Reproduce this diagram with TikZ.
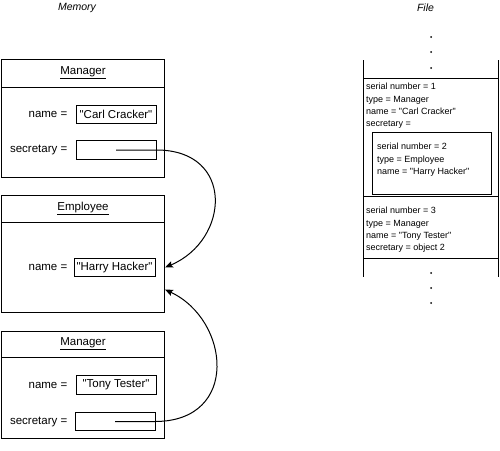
\documentclass[tikz,border=0pt]{standalone}
\usepackage{fontspec}
\setmainfont{Liberation Sans}[Ligatures=TeXOff]
\usetikzlibrary{arrows.meta,positioning}

\tikzset{
  object/.style={draw, line width=1pt, minimum width=163pt, anchor=north west, inner sep=0pt},
  field/.style={draw, line width=1pt, minimum width=80pt, minimum height=18.5pt, inner sep=1pt, font=\fontsize{11.5}{13}\selectfont},
  label/.style={inner sep=0pt, font=\fontsize{11.5}{13}\selectfont},
  record/.style={align=left, anchor=north west, inner sep=0pt, font=\fontsize{9}{12.3}\selectfont},
  title/.style={font=\fontsize{10.5}{12}\selectfont\itshape},
  dot/.style={circle, fill, inner sep=0pt, minimum size=2pt},
  ref/.style={line width=1pt, -{Stealth[length=8pt, width=6.5pt, inset=1.5pt]}}
}

\begin{document}
\begin{tikzpicture}[x=1pt, y=-1pt]
  \useasboundingbox (0,0) rectangle (500,450);

  % memory side
  \node[title] (memory) at (77,8) {Memory};

  \node[object, minimum height=118pt] (mgrA) at (1,59) {};
  \draw[line width=1pt] ([yshift=-28pt]mgrA.north west) -- ([yshift=-28pt]mgrA.north east);
  \node[label] (mgrAtitle) at ([yshift=-14pt]mgrA.north) {\underline{Manager}};
  \node[field] (mgrAname) at (116,114.5) {"Carl Cracker"};
  \node[field] (mgrAsec)  at (116,150) {};
  \node[label, left=8pt of mgrAname] {name =};
  \node[label, left=8pt of mgrAsec]  {secretary =};

  \node[object, minimum height=117pt] (emp) at (1,195) {};
  \draw[line width=1pt] ([yshift=-27pt]emp.north west) -- ([yshift=-27pt]emp.north east);
  \node[label] (emptitle) at ([yshift=-13.5pt]emp.north) {\underline{Employee}};
  \node[field, minimum width=81pt] (empname) at (114.5,267.5) {"Harry Hacker"};
  \node[label, left=6pt of empname] {name =};

  \node[object, minimum height=107pt] (mgrB) at (1,331) {};
  \draw[line width=1pt] ([yshift=-26pt]mgrB.north west) -- ([yshift=-26pt]mgrB.north east);
  \node[label] (mgrBtitle) at ([yshift=-13pt]mgrB.north) {\underline{Manager}};
  \node[field] (mgrBname) at (116,385) {"Tony Tester"};
  \node[field] (mgrBsec)  at (115,421.5) {};
  \node[label, left=8pt of mgrBname] {name =};
  \node[label, left=7pt of mgrBsec]  {secretary =};

  \coordinate (empin1) at (emp.east |- empname);
  \coordinate (empin2) at ([yshift=-22pt]emp.east |- empname);
  \draw[ref] (mgrAsec.center) -- (mgrAsec.east) .. controls (235,150) and (230,240) .. (empin1);
  \draw[ref] (mgrBsec.center) -- (mgrBsec.east) .. controls (240,421) and (230,320) .. (empin2);

  % file side
  \node[title] (file) at (425.5,8) {File};
  \foreach \y in {37,52,68,273,288,303}
    \node[dot] at (431,\y) {};

  \draw[line width=1pt] (363,60) -- (363,277) (498,60) -- (498,277);
  \draw[line width=1pt] (363,78) -- (498,78) (363,196) -- (498,196) (363,258) -- (498,258);

  \node[record] (rec1) at (366,83) {serial number = 1\\type = Manager\\name = "Carl Cracker"\\secretary =};
  \node[draw, line width=1pt, minimum width=119pt, minimum height=62pt, anchor=north west, inner sep=0pt] (rec2box) at (372,132) {};
  \node[record] (rec2) at (377,143) {serial number = 2\\type = Employee\\name = "Harry Hacker"};
  \node[record] (rec3) at (366,207) {serial number = 3\\type = Manager\\name = "Tony Tester"\\secretary = object 2};
\end{tikzpicture}
\end{document}
